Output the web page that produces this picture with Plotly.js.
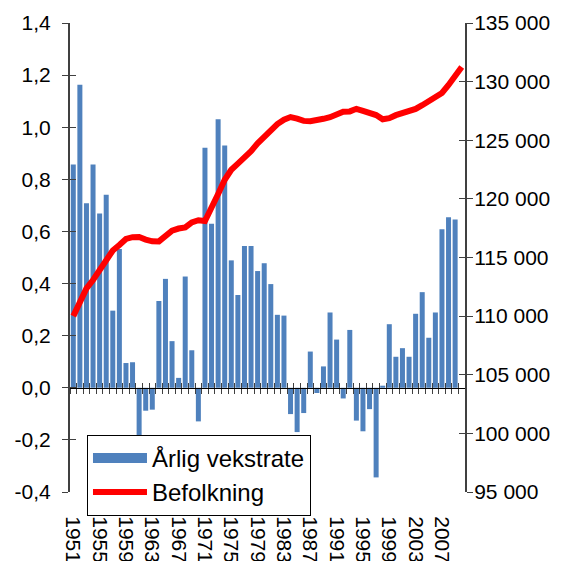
<!DOCTYPE html>
<html>
<head>
<meta charset="utf-8">
<script src="https://cdn.plot.ly/plotly-3.0.1.min.js"></script>
<style>html,body{margin:0;padding:0;background:#fff;}#chart{width:567px;height:561px;}</style>
</head>
<body>
<div id="chart"></div>
<script>
// Years for the bars (annual growth rate, %)
const barYears = [1951,1952,1953,1954,1955,1956,1957,1958,1959,1960,
  1961,1962,1963,1964,1965,1966,1967,1968,1969,1970,
  1971,1972,1973,1974,1975,1976,1977,1978,1979,1980,
  1981,1982,1983,1984,1985,1986,1987,1988,1989,1990,
  1991,1992,1993,1994,1995,1996,1997,1998,1999,2000,
  2001,2002,2003,2004,2005,2006,2007,2008,2009];
const growthRate = [0.857,1.163,0.708,0.857,0.669,0.741,0.296,0.533,0.095,0.098,
  -0.19,-0.088,-0.084,0.333,0.418,0.179,0.038,0.427,0.144,-0.129,
  0.921,0.63,1.031,0.930,0.489,0.356,0.544,0.544,0.448,0.478,
  0.398,0.280,0.277,-0.101,-0.170,-0.097,0.139,-0.02,0.082,0.289,
  0.185,-0.041,0.222,-0.126,-0.167,-0.082,-0.344,0.008,0.244,0.119,
  0.152,0.119,0.284,0.367,0.192,0.289,0.608,0.654,0.646];
// Years for the population line
const popYears = [1951,1952,1953,1954,1955,1956,1957,1958,1959,1960,
  1961,1962,1963,1964,1965,1966,1967,1968,1969,1970,
  1971,1972,1973,1974,1975,1976,1977,1978,1979,1980,
  1981,1982,1983,1984,1985,1986,1987,1988,1989,1990,
  1991,1992,1993,1994,1995,1996,1997,1998,1999,2000,
  2001,2002,2003,2004,2005,2006,2007,2008,2009,2010];
const population = [110000,111330,112360,113080,114000,114830,115600,116070,116580,116730,
  116750,116530,116380,116370,116830,117290,117470,117560,118000,118180,
  118110,119400,120420,121630,122480,123010,123470,124070,124730,125300,
  125860,126380,126750,126980,126840,126650,126620,126790,126830,126970,
  127260,127440,127460,127680,127500,127330,127150,126790,126880,127140,
  127310,127470,127670,127990,128360,128650,129030,129710,130440,131250];
// Tick labels
const yearTickVals = [1951,1955,1959,1963,1967,1971,1975,1979,1983,1987,1991,1995,1999,2003,2007];
const yearTickText = yearTickVals.map(String);
const rateTickVals = [-0.4,-0.2,0,0.2,0.4,0.6,0.8,1.0,1.2,1.4];
const rateTickText = ['-0,4','-0,2','0,0','0,2','0,4','0,6','0,8','1,0','1,2','1,4'];
const seriesNames = ['Årlig vekstrate', 'Befolkning'];

const FONT = 'Liberation Sans, Arial, sans-serif';
const BLUE = '#4F81BD';
const xr = [1950.5, 2010.5];

const traces = [
  {type:'bar', x: barYears, y: growthRate, name: seriesNames[0], showlegend:false,
   legendgroup:'rate', marker:{color:BLUE, line:{width:0}}, width:0.76, xaxis:'x', yaxis:'y'},
  // legend key for the bars (wide block like the original); holds no drawable point
  {type:'scatter', mode:'lines', x:[null], y:[null], name: seriesNames[0], legendgroup:'rate',
   showlegend:true, line:{color:BLUE, width:11}, xaxis:'x', yaxis:'y', hoverinfo:'skip'},
  {type:'scatter', mode:'lines', x: popYears, y: population, name: seriesNames[1],
   line:{color:'#FF0000', width:6}, xaxis:'x', yaxis:'y2'},
  // helpers so the overlay tick axes are drawn
  {type:'scatter', x:[], y:[], xaxis:'x2', yaxis:'y', showlegend:false, hoverinfo:'skip'},
  {type:'scatter', x:[], y:[], xaxis:'x3', yaxis:'y', showlegend:false, hoverinfo:'skip'},
  {type:'scatter', x:[], y:[], xaxis:'x', yaxis:'y3', showlegend:false, hoverinfo:'skip'},
  {type:'scatter', x:[], y:[], xaxis:'x', yaxis:'y4', showlegend:false, hoverinfo:'skip'}
];

const tickAxisBase = {range: xr, tickmode:'linear', tick0:1950.5, dtick:1, ticklen:5,
  tickcolor:'#404040', tickwidth:1, showticklabels:false, showgrid:false, zeroline:false,
  anchor:'free', position: 0.4/1.8, overlaying:'x', fixedrange:true};

const layout = {
  width:567, height:561,
  margin:{l:70, r:102, t:23, b:69, pad:0},
  paper_bgcolor:'#fff', plot_bgcolor:'#fff',
  separators:', ',
  font:{family:FONT, color:'#000', size:21},
  showlegend:true,
  legend:{x:0.043, y:0.122, xanchor:'left', yanchor:'top', bgcolor:'#fff',
    bordercolor:'#000', borderwidth:1, font:{family:FONT, size:24, color:'#000'},
    itemwidth:54, tracegroupgap:0, traceorder:'normal'},
  xaxis:{range: xr, tickmode:'array', tickvals: yearTickVals, ticktext: yearTickText,
    tickangle:90, ticks:'outside', ticklen:19, tickcolor:'rgba(0,0,0,0)',
    showline:false, showgrid:false, zeroline:false, tickfont:{size:21}, fixedrange:true},
  xaxis2: Object.assign({}, tickAxisBase, {ticks:'outside', showline:true, linecolor:'#000', linewidth:1}),
  xaxis3: Object.assign({}, tickAxisBase, {ticks:'inside', showline:false}),
  yaxis:{range:[-0.4,1.4], tickmode:'array', tickvals: rateTickVals, ticktext: rateTickText,
    ticks:'outside', ticklen:6, tickcolor:'#404040', showline:true, linecolor:'#404040', linewidth:2,
    showgrid:false, zeroline:false, ticklabelstandoff:7, tickfont:{size:21}, fixedrange:true},
  yaxis2:{range:[95000,135000], tickmode:'linear', tick0:95000, dtick:5000, tickformat:',d',
    overlaying:'y', side:'right', ticks:'outside', ticklen:6, tickcolor:'#404040',
    showline:true, linecolor:'#404040', linewidth:2, showgrid:false, zeroline:false,
    ticklabelstandoff:-3, tickfont:{size:21}, fixedrange:true},
  yaxis3:{range:[-0.4,1.4], tickmode:'array', tickvals: rateTickVals, overlaying:'y', side:'left',
    ticks:'inside', ticklen:6, tickcolor:'#404040', showticklabels:false, showline:false,
    showgrid:false, zeroline:false, fixedrange:true},
  yaxis4:{range:[95000,135000], tickmode:'linear', tick0:95000, dtick:5000, overlaying:'y', side:'right',
    ticks:'inside', ticklen:6, tickcolor:'#404040', showticklabels:false, showline:false,
    showgrid:false, zeroline:false, fixedrange:true}
};

Plotly.newPlot('chart', traces, layout, {staticPlot:true, displayModeBar:false});
</script>
</body>
</html>
